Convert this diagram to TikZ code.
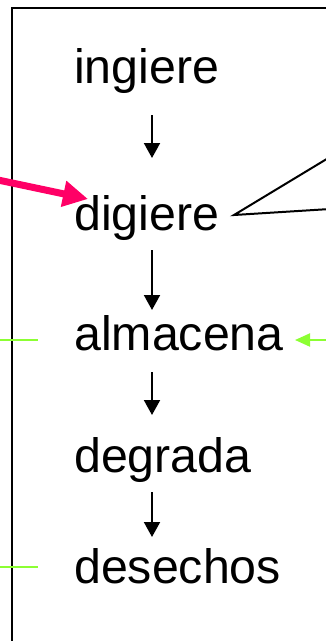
\documentclass[tikz,border=0pt]{standalone}
\usepackage{fontspec}
\setmainfont{Liberation Sans}
\usetikzlibrary{arrows.meta}
\definecolor{hotpink}{RGB}{255,0,102}
\definecolor{lime}{RGB}{140,255,51}
\tikzset{
  word/.style={anchor=base west, inner sep=0pt, font=\fontsize{48.3}{48}\selectfont},
  flow/.style={line width=2pt, -{Triangle[length=15pt,width=16pt]}},
  frame/.style={line width=2.5pt},
  marker/.style={lime, line width=2pt},
}
\begin{document}
\begin{tikzpicture}[x=1pt,y=-1pt]
\useasboundingbox (0,0) rectangle (325,641);
% outer frame (only its top and left edges are visible)
\draw[frame] (12,645) -- (12,8) -- (330,8);
% the sequence of steps
\node[word] (ingiere)  at (74,83)  {ingiere};
\node[word] (digiere)  at (74,230) {digiere};
\node[word] (almacena) at (74,350) {almacena};
\node[word] (degrada)  at (74,472) {degrada};
\node[word] (desechos) at (74,583) {desechos};
% arrow end points between the steps
\coordinate (a1s) at (152,115); \coordinate (a1e) at (152,158);
\coordinate (a2s) at (152,250); \coordinate (a2e) at (152,310);
\coordinate (a3s) at (152,372); \coordinate (a3e) at (152,415);
\coordinate (a4s) at (152,492); \coordinate (a4e) at (152,537);
\draw[flow] (a1s) -- (a1e);
\draw[flow] (a2s) -- (a2e);
\draw[flow] (a3s) -- (a3e);
\draw[flow] (a4s) -- (a4e);
% pink pointer into "digiere"
\coordinate (pinkfrom) at (-2,180);
\coordinate (pinktip) at (88,199);
\draw[hotpink, line width=7pt, -{Triangle[length=25pt,width=25pt]}] (pinkfrom) -- (pinktip);
% callout wedge from "digiere"
\coordinate (wedge) at (234,215);
\coordinate (wedgeup) at (330,157);
\coordinate (wedgelo) at (330,209);
\draw[line width=2pt, line join=miter] (wedgeup) -- (wedge) -- (wedgelo);
% green ticks and arrow
\coordinate (g1) at (0,340); \coordinate (g1e) at (38,340);
\coordinate (g2) at (0,567); \coordinate (g2e) at (38,567);
\draw[marker] (g1) -- (g1e);
\draw[marker] (g2) -- (g2e);
\coordinate (gfrom) at (328,340);
\coordinate (gtip) at (295,340);
\draw[marker, -{Triangle[length=15pt,width=13pt]}] (gfrom) -- (gtip);
\end{tikzpicture}
\end{document}
